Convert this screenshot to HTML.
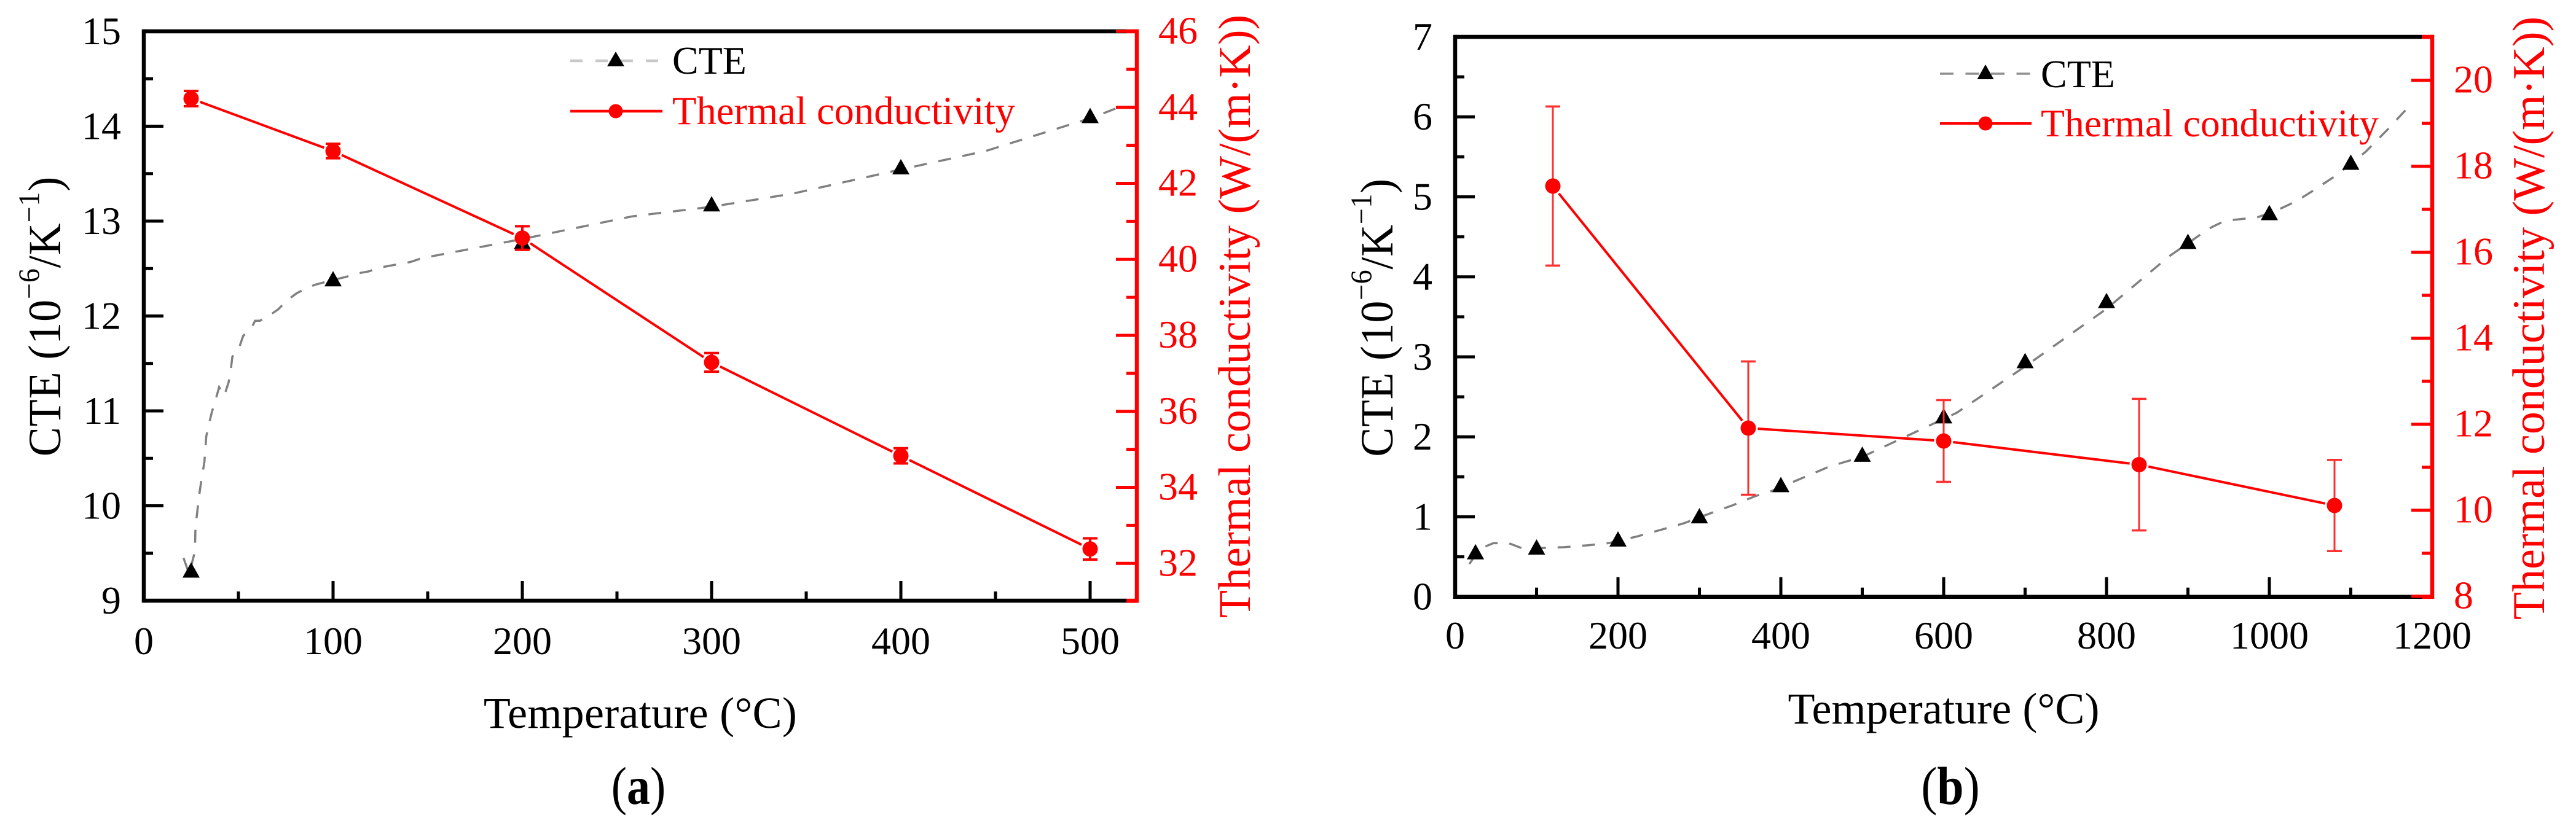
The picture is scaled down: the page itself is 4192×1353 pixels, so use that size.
<!DOCTYPE html>
<html lang="en">
<head>
<meta charset="utf-8">
<title>CTE and thermal conductivity vs temperature</title>
<style>
html,body{margin:0;padding:0;background:#fff;}
svg{display:block;}
text{font-family:"Liberation Serif",serif;}
</style>
</head>
<body>
<svg id="figure" xmlns="http://www.w3.org/2000/svg" width="4192" height="1353" viewBox="0 0 4192 1353">
  <rect x="0" y="0" width="4192" height="1353" fill="#fff"/>

  <g id="panel-a"></g>
  <g id="panel-b"></g>

  <!-- Panel a static text -->
  <text x="1042" y="1185" font-size="72" letter-spacing="0.3" text-anchor="middle" fill="#000">Temperature (°C)</text>
  <text transform="translate(98 515) rotate(-90) scale(1 1.05)" font-size="72" letter-spacing="0.9" text-anchor="middle" fill="#000">CTE (10<tspan font-size="46" dy="-33">−6</tspan><tspan dy="33">/K</tspan><tspan font-size="46" dy="-33">−1</tspan><tspan dy="33">)</tspan></text>
  <text transform="translate(2034 515) rotate(-90)" font-size="74" text-anchor="middle" fill="#f00">Thermal conductivity (W/(m·K))</text>
  <text transform="translate(1039 1309) scale(1 1.14)" font-size="76" text-anchor="middle" fill="#000">(<tspan font-weight="bold">a</tspan>)</text>

  <g>
    <line x1="928" y1="99" x2="1078" y2="99" stroke="#c8c8c8" stroke-width="4.5" stroke-dasharray="20 21"/>
    <polygon points="1002,84 988,108 1016,108" fill="#000"/>
    <text x="1094" y="120" font-size="64" fill="#000">CTE</text>
    <line x1="928" y1="181" x2="1078" y2="181" stroke="#f00" stroke-width="4.5"/>
    <circle cx="1002" cy="181" r="11.5" fill="#f00"/>
    <text x="1094" y="202" font-size="64.6" fill="#f00">Thermal conductivity</text>
  </g>

  <!-- Panel b static text -->
  <text x="3163" y="1178" font-size="72" letter-spacing="0.1" text-anchor="middle" fill="#000">Temperature (°C)</text>
  <text transform="translate(2266 517) rotate(-90) scale(1 1.05)" font-size="72" letter-spacing="0.7" text-anchor="middle" fill="#000">CTE (10<tspan font-size="46" dy="-33">−6</tspan><tspan dy="33">/K</tspan><tspan font-size="46" dy="-33">−1</tspan><tspan dy="33">)</tspan></text>
  <text transform="translate(4140 518) rotate(-90)" font-size="74" text-anchor="middle" fill="#f00">Thermal conductivity (W/(m·K))</text>
  <text transform="translate(3174 1309) scale(1 1.12)" font-size="78" text-anchor="middle" fill="#000">(<tspan font-weight="bold">b</tspan>)</text>

  <g>
    <line x1="3157" y1="120" x2="3306" y2="120" stroke="#909090" stroke-width="3.5" stroke-dasharray="22 19.5"/>
    <polygon points="3231,105 3217.5,129 3244.5,129" fill="#000"/>
    <text x="3321" y="142" font-size="64" fill="#000">CTE</text>
    <line x1="3157" y1="201" x2="3306" y2="201" stroke="#f00" stroke-width="4"/>
    <circle cx="3231" cy="201" r="11.5" fill="#f00"/>
    <text x="3321" y="222" font-size="63.7" fill="#f00">Thermal conductivity</text>
  </g>
</svg>

<script>
// ---------- Panel (a) data ----------
var aXTicks = [0, 100, 200, 300, 400, 500];
var aXMinor = [50, 150, 250, 350, 450];
var aLeftTicks = [9, 10, 11, 12, 13, 14, 15];
var aLeftMinor = [9.5, 10.5, 11.5, 12.5, 13.5, 14.5];
var aRightTicks = [32, 34, 36, 38, 40, 42, 44, 46];
var aRightMinor = [31, 33, 35, 37, 39, 41, 43, 45];
var aCteTemps = [25, 100, 200, 300, 400, 500];
var aCteValues = [9.32, 12.39, 12.78, 13.18, 13.57, 14.11];
var aCurveTemps = [21, 24, 27, 27.3, 28.2, 29, 29.9, 30.9, 32, 32.5, 33, 34.4, 36, 38, 39.8, 42.5, 44.8, 46, 46.8, 50.3, 52.5, 56.8, 58.8, 61.4, 65.9, 71, 76, 80.8, 85.7, 90.6, 100, 106.4, 113.3, 118.8, 124.7, 130, 136, 141, 147, 199.6, 258, 299.5, 343, 399, 445, 501, 514];
var aCurveValues = [9.45, 9.28, 9.52, 9.78, 9.93, 10.07, 10.2, 10.33, 10.46, 10.59, 10.73, 10.86, 10.99, 11.12, 11.25, 11.16, 11.3, 11.44, 11.57, 11.66, 11.79, 11.87, 11.95, 11.95, 12, 12.07, 12.17, 12.24, 12.29, 12.33, 12.38, 12.41, 12.45, 12.47, 12.51, 12.53, 12.55, 12.57, 12.61, 12.81, 13.05, 13.15, 13.29, 13.54, 13.74, 14.09, 14.19];
var aKTemps = [25, 100, 200, 300, 400, 500];
var aKValues = [44.23, 42.85, 40.56, 37.29, 34.83, 32.38];
var aKErrors = [0.2, 0.19, 0.31, 0.245, 0.2, 0.28];

// ---------- Panel (b) data ----------
var bXTicks = [0, 200, 400, 600, 800, 1000, 1200];
var bXMinor = [100, 300, 500, 700, 900, 1100];
var bLeftTicks = [0, 1, 2, 3, 4, 5, 6, 7];
var bLeftMinor = [0.5, 1.5, 2.5, 3.5, 4.5, 5.5, 6.5];
var bRightTicks = [8, 10, 12, 14, 16, 18, 20];
var bRightMinor = [9, 11, 13, 15, 17, 19, 21];
var bCteTemps = [25, 100, 200, 300, 400, 500, 600, 700, 800, 900, 1000, 1100];
var bCteValues = [0.56, 0.62, 0.72, 1.01, 1.4, 1.78, 2.26, 2.95, 3.7, 4.44, 4.8, 5.43];
var bCurveTemps = [17.5, 30, 46.9, 65.8, 81.5, 105, 133.6, 163.9, 188, 221.7, 252, 281, 312.6, 341, 369, 388, 460, 500, 616, 700, 800, 876, 917, 929, 939, 954, 985.7, 1009, 1034, 1054, 1081, 1118, 1146, 1176];
var bCurveValues = [0.41, 0.6, 0.67, 0.67, 0.61, 0.61, 0.62, 0.645, 0.67, 0.75, 0.835, 0.92, 1.04, 1.145, 1.26, 1.32, 1.63, 1.75, 2.3, 2.88, 3.6, 4.25, 4.54, 4.62, 4.67, 4.71, 4.745, 4.83, 4.95, 5.08, 5.26, 5.56, 5.85, 6.18];
var bKTemps = [120, 360, 600, 840, 1080];
var bKValues = [17.54, 11.91, 11.61, 11.06, 10.11];
var bKErrors = [1.85, 1.55, 0.95, 1.53, 1.06];

var SVG_NS = 'http://www.w3.org/2000/svg';

function scale(d0, d1, p0, p1) {
  return function (v) { return p0 + (v - d0) * (p1 - p0) / (d1 - d0); };
}

function shape(parent, tag, props) {
  var el = document.createElementNS(SVG_NS, tag);
  Object.keys(props).forEach(function (k) { el.setAttribute(k, props[k]); });
  parent.appendChild(el);
  return el;
}

function segment(parent, x1, y1, x2, y2, color, width, name) {
  var el = shape(parent, 'line', { x1: x1, y1: y1, x2: x2, y2: y2, stroke: color, 'stroke-width': width });
  
  
  return el;
}

function label(parent, x, y, str, anchor, color, name) {
  var el = shape(parent, 'text', { x: x, y: y, 'font-size': 64, 'text-anchor': anchor, fill: color });
  el.textContent = str;
  
  
  return el;
}

function drawPanel(id, box, xS, yL, yR, ticks, cte, curve, k) {
  var g = document.getElementById(id);
  var AW = 6.5;
  var red = '#ff0000';

  // frame
  segment(g, box.left, box.top, box.right - 17, box.top, '#000', AW, 'top-axis');
  segment(g, box.left, box.top - AW / 2, box.left, box.bottom + AW / 2, '#000', AW, 'left-axis');
  segment(g, box.left, box.bottom, box.right - 17, box.bottom, '#000', AW, 'bottom-axis');
  segment(g, box.right - 17, box.top, box.right + 3, box.top, red, AW, 'right-axis-top-cap');
  segment(g, box.right - 17, box.bottom, box.right + 3, box.bottom, red, AW, 'right-axis-bottom-cap');
  segment(g, box.right, box.top - AW / 2, box.right, box.bottom + AW / 2, red, AW, 'right-axis');

  // x ticks
  ticks.x.forEach(function (v) {
    if (xS(v) < box.right - 5) {
      segment(g, xS(v), box.bottom, xS(v), box.bottom - 32, '#000', 5, 'x-major-tick');
    }
    label(g, xS(v), box.xLabelY, String(v), 'middle', '#000', 'x-tick-label');
  });
  ticks.xMinor.forEach(function (v) {
    segment(g, xS(v), box.bottom, xS(v), box.bottom - 15, '#000', 5, 'x-minor-tick');
  });

  // left y ticks
  ticks.left.forEach(function (v) {
    segment(g, box.left, yL(v), box.left + 32, yL(v), '#000', 5, 'left-y-major-tick');
    label(g, box.left - 37, yL(v) + 21, String(v), 'end', '#000', 'left-y-tick-label');
  });
  ticks.leftMinor.forEach(function (v) {
    segment(g, box.left, yL(v), box.left + 15, yL(v), '#000', 5, 'left-y-minor-tick');
  });

  // right y ticks
  ticks.right.forEach(function (v) {
    segment(g, box.right, yR(v), box.right - 34, yR(v), red, 5, 'right-y-major-tick');
    label(g, box.right + 35, yR(v) + 20, String(v), 'start', red, 'right-y-tick-label');
  });
  ticks.rightMinor.forEach(function (v) {
    segment(g, box.right, yR(v), box.right - 17, yR(v), red, 5, 'right-y-minor-tick');
  });

  // CTE dashed curve
  var d = curve.t.map(function (t, i) {
    return (i ? 'L' : 'M') + xS(t).toFixed(1) + ' ' + yL(curve.v[i]).toFixed(1);
  }).join(' ');
  var cteLine = shape(g, 'path', { d: d, fill: 'none', stroke: '#808080', 'stroke-width': 3.5, 'stroke-dasharray': '21 19' });
  
  

  // CTE triangles
  cte.t.forEach(function (t, i) {
    var cx = xS(t), cy = yL(cte.v[i]);
    var tri = shape(g, 'polygon', {
      points: cx + ',' + (cy - 13) + ' ' + (cx - 14) + ',' + (cy + 12) + ' ' + (cx + 14) + ',' + (cy + 12),
      fill: '#000'
    });
    
    
  });

  // conductivity line segments with a gap at the markers
  var GAP = 15.5;
  for (var i = 0; i < k.t.length - 1; i++) {
    var x1 = xS(k.t[i]), y1 = yR(k.v[i]), x2 = xS(k.t[i + 1]), y2 = yR(k.v[i + 1]);
    var len = Math.hypot(x2 - x1, y2 - y1);
    var ux = (x2 - x1) / len, uy = (y2 - y1) / len;
    segment(g, x1 + ux * GAP, y1 + uy * GAP, x2 - ux * GAP, y2 - uy * GAP, red, 4, 'conductivity-line-segment');
  }

  // conductivity error bars and markers
  k.t.forEach(function (t, i) {
    var cx = xS(t), hi = yR(k.v[i] + k.e[i]), lo = yR(k.v[i] - k.e[i]);
    var errColor = box.errColor;
    segment(g, cx, hi, cx, lo, errColor, box.errWidth, 'conductivity-error-bar');
    segment(g, cx - 12, hi, cx + 12, hi, errColor, box.capWidth, 'conductivity-error-cap-upper');
    segment(g, cx - 12, lo, cx + 12, lo, errColor, box.capWidth, 'conductivity-error-cap-lower');
    var dot = shape(g, 'circle', { cx: cx, cy: yR(k.v[i]), r: 12.5, fill: red });
    
    
  });
}

drawPanel('panel-a',
  { left: 234, right: 1850, top: 51, bottom: 978, xLabelY: 1065, errColor: '#ff0000', errWidth: 4, capWidth: 4 },
  scale(0, 500, 234, 1774),
  scale(9, 15, 978, 51),
  scale(32, 46, 917.3, 51),
  { x: aXTicks, xMinor: aXMinor, left: aLeftTicks, leftMinor: aLeftMinor, right: aRightTicks, rightMinor: aRightMinor },
  { t: aCteTemps, v: aCteValues },
  { t: aCurveTemps, v: aCurveValues },
  { t: aKTemps, v: aKValues, e: aKErrors }
);

drawPanel('panel-b',
  { left: 2368, right: 3958, top: 60, bottom: 971.7, xLabelY: 1056, errColor: '#ff3030', errWidth: 3, capWidth: 3.5 },
  scale(0, 1200, 2368, 3958),
  scale(0, 7, 971.7, 60),
  scale(8, 20, 970.7, 130.7),
  { x: bXTicks, xMinor: bXMinor, left: bLeftTicks, leftMinor: bLeftMinor, right: bRightTicks, rightMinor: bRightMinor },
  { t: bCteTemps, v: bCteValues },
  { t: bCurveTemps, v: bCurveValues },
  { t: bKTemps, v: bKValues, e: bKErrors }
);
</script>
</body>
</html>
